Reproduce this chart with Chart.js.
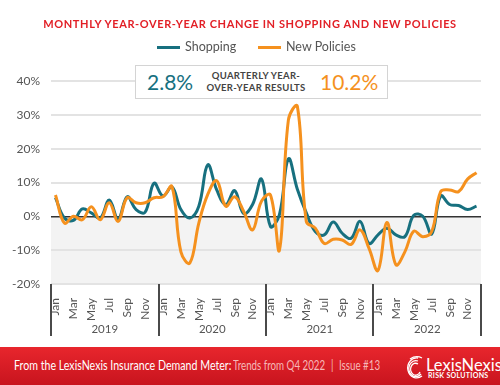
<!DOCTYPE html>
<html>
<head>
<meta charset="utf-8">
<script src="https://cdn.jsdelivr.net/npm/chart.js@4"></script>
<style>
  html, body { margin: 0; padding: 0; background: #fff; }
  body { width: 500px; height: 385px; position: relative; overflow: hidden; font-family: Lato, 'Noto Sans', sans-serif; }
  #title { position: absolute; top: 16px; left: 0; width: 500px; text-align: center; color: #e21f26; font-weight: 700; font-size: 11px; letter-spacing: 0.6px; line-height: 16px; }
  #legend { position: absolute; top: 39px; left: 0; width: 500px; height: 16px; font-size: 12.5px; color: #555; }
  #legend .sw { position: absolute; top: 7px; width: 23px; height: 3px; }
  #legend .lb { position: absolute; top: 0; line-height: 16px; }
  #wrap { position: absolute; left: 0; top: 0; width: 500px; height: 345px; }
  #box { position: absolute; left: 135px; top: 65px; width: 251px; height: 32px; background: #fff; border: 1.5px solid #d4d4d4; }
  #box .big { position: absolute; top: 3px; font-size: 21px; line-height: 26px; }
  #box .mid { position: absolute; left: 64px; top: 4px; width: 112px; text-align: center; font-size: 9.5px; font-weight: 700; letter-spacing: 0.3px; color: #444; line-height: 12px; white-space: nowrap; }
  #foot { position: absolute; left: 0; top: 347px; width: 500px; height: 38px; background: linear-gradient(#e8262d, #c8141e); }
  #foot .t { position: absolute; top: 11px; font-size: 12.5px; line-height: 16px; white-space: nowrap; transform: scaleX(0.85); transform-origin: 0 0; }
  #foot .t.s { transform: scaleX(0.78); color: #f6b8b8; }
  #logo { position: absolute; left: 404px; top: 5px; width: 92px; height: 30px; }
  #logo .name { position: absolute; left: 22px; top: 0; font-size: 16.5px; color: #fff; line-height: 20px; }
  #logo .sub { position: absolute; left: 24px; top: 19px; font-size: 7px; font-weight: 700; color: #fff; letter-spacing: 0.3px; }
</style>
</head>
<body>
<div id="wrap"><canvas id="chart"></canvas></div>
<div id="title">MONTHLY YEAR-OVER-YEAR CHANGE IN SHOPPING AND NEW POLICIES</div>
<div id="legend">
  <div class="sw" style="left:157px;background:#17707f"></div><div class="lb" style="left:185px">Shopping</div>
  <div class="sw" style="left:258px;background:#f5911e"></div><div class="lb" style="left:286px">New Policies</div>
</div>
<div id="box">
  <div class="big" style="left:11px;color:#17707f">2.8%</div>
  <div class="mid">QUARTERLY YEAR-<br>OVER-YEAR RESULTS</div>
  <div class="big" style="left:184px;color:#f5911e">10.2%</div>
</div>
<div id="foot">
  <div class="t" style="left:14px;color:#fff">From the LexisNexis Insurance Demand Meter:</div>
  <div class="t s" style="left:233px">Trends from Q4 2022</div>
  <div class="t s" style="left:331px">|</div>
  <div class="t s" style="left:339px">Issue #13</div>
  <div id="logo">
    <svg width="22" height="26" viewBox="0 0 22 26" style="position:absolute;left:0;top:3px">
      <g fill="none" stroke="#fff" stroke-width="1.3">
        <path d="M14 3 A9 10 0 1 0 18 21"/>
        <path d="M14 6 A7 8 0 1 0 17 19"/>
        <path d="M14 9 A5 6 0 1 0 16 17"/>
        <path d="M6 4 Q12 0 18 3"/>
      </g>
    </svg>
    <div class="name">LexisNexis<sup style="font-size:6px">®</sup></div>
    <div class="sub">RISK SOLUTIONS</div>
  </div>
</div>
<script>
const monthNames = ['Jan', 'Feb', 'Mar', 'Apr', 'May', 'Jun', 'Jul', 'Aug', 'Sep', 'Oct', 'Nov', 'Dec'];
const years = ['2019', '2020', '2021', '2022'];
const yTicks = [-20, -10, 0, 10, 20, 30, 40];

// % change year over year, Jan 2019 .. Dec 2022
const shopping = [
  5.5, -0.5, -1.2, 2.2, 1.0, -0.5, 4.8, -0.8, 5.8, 2.0, 1.2, 9.8,
  6.0, 8.7, 2.0, -0.5, 3.0, 15.2, 7.8, 3.5, 7.6, 0.8, 3.5, 11.0,
  -3.0, 0.5, 17.0, 8.0, 1.0, -4.5, -5.5, -1.7, -5.0, -6.5, -1.5, -8.0,
  -5.5, -3.5, -5.5, -6.0, 0.3, 0.0, -5.2, 6.0, 3.5, 3.2, 2.0, 3.0
];
const newPolicies = [
  6.3, -2.0, 0.0, -1.0, 2.8, -1.0, 4.0, -1.5, 5.5, 4.0, 4.0, 5.5,
  5.8, 8.8, -10.5, -13.8, -2.0, 6.5, 10.5, 3.0, 5.8, 1.5, -4.0, 4.5,
  6.3, -10.0, 28.5, 32.5, -1.5, -3.5, -8.0, -6.8, -7.0, -8.3, -4.0, -9.5,
  -16.0, -1.8, -14.3, -10.5, -4.4, -6.0, -4.5, 7.3, 7.8, 7.3, 11.0, 12.9
];

const labels = years.flatMap(y => monthNames.map(m => `${m} ${y}`));

const decor = {
  id: 'decor',
  beforeDraw(chart) {
    const { ctx, chartArea: a, scales: { y } } = chart;
    const y0 = y.getPixelForValue(0);
    ctx.save();
    ctx.fillStyle = '#f3f3f3';
    ctx.fillRect(a.left, y0, a.right - a.left, y.getPixelForValue(-20) - y0);
    ctx.restore();
  },
  afterDraw(chart) {
    const { ctx, chartArea: a, scales: { x } } = chart;
    const step = x.getPixelForValue(1) - x.getPixelForValue(0);
    ctx.save();
    ctx.strokeStyle = '#4a4a4a';
    ctx.lineWidth = 2;
    for (let i = 0; i <= years.length; i++) {
      const px = Math.round(x.getPixelForValue(i * 12) - step / 2);
      ctx.beginPath();
      ctx.moveTo(px, a.bottom);
      ctx.lineTo(px, a.bottom + 52);
      ctx.stroke();
    }
    ctx.fillStyle = '#555';
    ctx.font = '11.5px Lato';
    ctx.textAlign = 'center';
    ctx.textBaseline = 'middle';
    years.forEach((yr, i) => {
      const mid = (x.getPixelForValue(i * 12) + x.getPixelForValue(i * 12 + 11)) / 2;
      ctx.fillText(yr, mid, a.bottom + 45);
    });
    ctx.restore();
  }
};

Chart.defaults.font.family = 'Lato';
new Chart(document.getElementById('chart'), {
  type: 'line',
  data: {
    labels,
    datasets: [
      { label: 'Shopping', data: shopping, borderColor: '#17707f', borderWidth: 3, pointRadius: 0, tension: 0.4, order: 1 },
      { label: 'New Policies', data: newPolicies, borderColor: '#f5911e', borderWidth: 3, pointRadius: 0, tension: 0.4, order: 0 }
    ]
  },
  options: {
    responsive: true,
    maintainAspectRatio: false,
    animation: false,
    layout: { padding: { top: 81, right: 19, left: 0, bottom: 0 } },
    plugins: { legend: { display: false }, tooltip: { enabled: false } },
    scales: {
      x: {
        offset: true,
        grid: { display: false },
        border: { display: false },
        afterFit: s => { s.height = 61; },
        ticks: {
          autoSkip: false, minRotation: 90, maxRotation: 90, padding: 6,
          color: '#555', font: { size: 12 },
          callback: (v, i) => i % 2 === 0 ? monthNames[i % 12] : ''
        }
      },
      y: {
        min: -20, max: 40,
        afterFit: s => { s.width = 51; },
        afterBuildTicks: s => { s.ticks = yTicks.map(v => ({ value: v })); },
        border: { display: false },
        grid: {
          drawTicks: false,
          color: c => c.tick.value === 0 ? '#333' : '#e3e3e3',
          lineWidth: c => c.tick.value === 0 ? 1.5 : 2
        },
        ticks: { padding: 11, color: '#555', font: { size: 12 }, callback: v => v + '%' }
      }
    }
  },
  plugins: [decor]
});
</script>
</body>
</html>
